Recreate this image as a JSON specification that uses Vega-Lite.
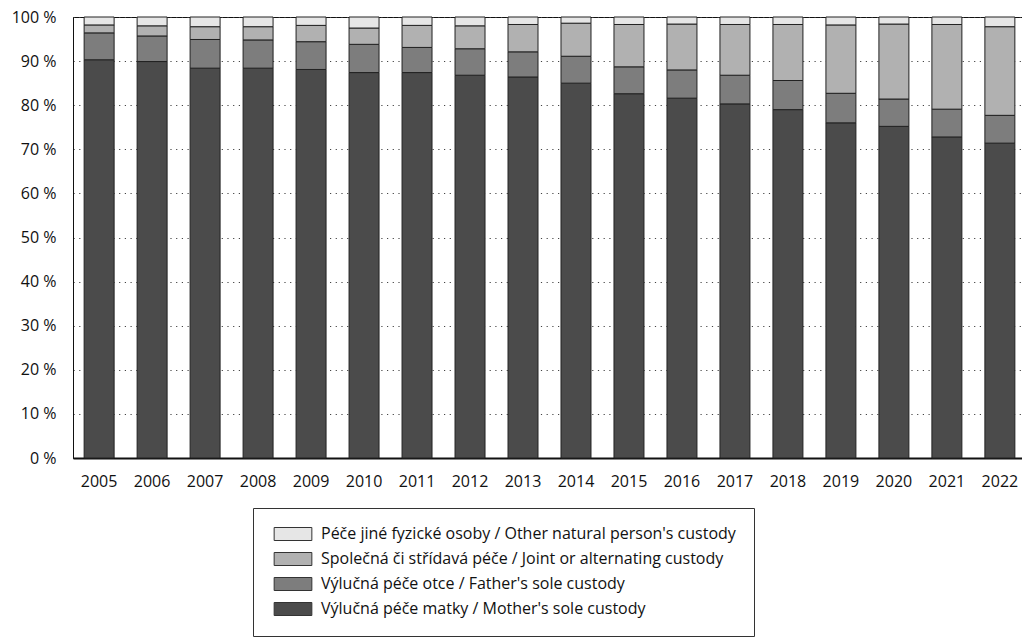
{
  "$schema": "https://vega.github.io/schema/vega-lite/v6.json",
  "autosize": "none",
  "padding": {"left": 73, "top": 17, "right": 0, "bottom": 180},
  "width": 953,
  "height": 441,
  "background": "white",
  "config": {
    "view": {"stroke": "#111", "strokeWidth": 1},
    "font": "Open Sans",
    "axis": {"labelFont": "Open Sans", "labelColor": "#111", "domainColor": "#111"},
    "legend": {"labelFont": "Open Sans"}
  },
  "data": {
    "values": [
      {"year": "2005", "c": "mother", "k": 1, "v": 90.3}, {"year": "2005", "c": "father", "k": 2, "v": 6.1}, {"year": "2005", "c": "joint", "k": 3, "v": 1.8}, {"year": "2005", "c": "other", "k": 4, "v": 1.8},
      {"year": "2006", "c": "mother", "k": 1, "v": 89.9}, {"year": "2006", "c": "father", "k": 2, "v": 5.8}, {"year": "2006", "c": "joint", "k": 3, "v": 2.3}, {"year": "2006", "c": "other", "k": 4, "v": 2.0},
      {"year": "2007", "c": "mother", "k": 1, "v": 88.4}, {"year": "2007", "c": "father", "k": 2, "v": 6.5}, {"year": "2007", "c": "joint", "k": 3, "v": 2.9}, {"year": "2007", "c": "other", "k": 4, "v": 2.2},
      {"year": "2008", "c": "mother", "k": 1, "v": 88.4}, {"year": "2008", "c": "father", "k": 2, "v": 6.4}, {"year": "2008", "c": "joint", "k": 3, "v": 3.0}, {"year": "2008", "c": "other", "k": 4, "v": 2.2},
      {"year": "2009", "c": "mother", "k": 1, "v": 88.1}, {"year": "2009", "c": "father", "k": 2, "v": 6.3}, {"year": "2009", "c": "joint", "k": 3, "v": 3.7}, {"year": "2009", "c": "other", "k": 4, "v": 1.9},
      {"year": "2010", "c": "mother", "k": 1, "v": 87.4}, {"year": "2010", "c": "father", "k": 2, "v": 6.4}, {"year": "2010", "c": "joint", "k": 3, "v": 3.7}, {"year": "2010", "c": "other", "k": 4, "v": 2.5},
      {"year": "2011", "c": "mother", "k": 1, "v": 87.4}, {"year": "2011", "c": "father", "k": 2, "v": 5.7}, {"year": "2011", "c": "joint", "k": 3, "v": 5.0}, {"year": "2011", "c": "other", "k": 4, "v": 1.9},
      {"year": "2012", "c": "mother", "k": 1, "v": 86.8}, {"year": "2012", "c": "father", "k": 2, "v": 6.0}, {"year": "2012", "c": "joint", "k": 3, "v": 5.2}, {"year": "2012", "c": "other", "k": 4, "v": 2.0},
      {"year": "2013", "c": "mother", "k": 1, "v": 86.4}, {"year": "2013", "c": "father", "k": 2, "v": 5.7}, {"year": "2013", "c": "joint", "k": 3, "v": 6.2}, {"year": "2013", "c": "other", "k": 4, "v": 1.7},
      {"year": "2014", "c": "mother", "k": 1, "v": 85.0}, {"year": "2014", "c": "father", "k": 2, "v": 6.1}, {"year": "2014", "c": "joint", "k": 3, "v": 7.5}, {"year": "2014", "c": "other", "k": 4, "v": 1.4},
      {"year": "2015", "c": "mother", "k": 1, "v": 82.6}, {"year": "2015", "c": "father", "k": 2, "v": 6.1}, {"year": "2015", "c": "joint", "k": 3, "v": 9.6}, {"year": "2015", "c": "other", "k": 4, "v": 1.7},
      {"year": "2016", "c": "mother", "k": 1, "v": 81.6}, {"year": "2016", "c": "father", "k": 2, "v": 6.4}, {"year": "2016", "c": "joint", "k": 3, "v": 10.4}, {"year": "2016", "c": "other", "k": 4, "v": 1.6},
      {"year": "2017", "c": "mother", "k": 1, "v": 80.3}, {"year": "2017", "c": "father", "k": 2, "v": 6.5}, {"year": "2017", "c": "joint", "k": 3, "v": 11.5}, {"year": "2017", "c": "other", "k": 4, "v": 1.7},
      {"year": "2018", "c": "mother", "k": 1, "v": 79.0}, {"year": "2018", "c": "father", "k": 2, "v": 6.6}, {"year": "2018", "c": "joint", "k": 3, "v": 12.7}, {"year": "2018", "c": "other", "k": 4, "v": 1.7},
      {"year": "2019", "c": "mother", "k": 1, "v": 76.0}, {"year": "2019", "c": "father", "k": 2, "v": 6.7}, {"year": "2019", "c": "joint", "k": 3, "v": 15.5}, {"year": "2019", "c": "other", "k": 4, "v": 1.8},
      {"year": "2020", "c": "mother", "k": 1, "v": 75.2}, {"year": "2020", "c": "father", "k": 2, "v": 6.2}, {"year": "2020", "c": "joint", "k": 3, "v": 17.0}, {"year": "2020", "c": "other", "k": 4, "v": 1.6},
      {"year": "2021", "c": "mother", "k": 1, "v": 72.8}, {"year": "2021", "c": "father", "k": 2, "v": 6.3}, {"year": "2021", "c": "joint", "k": 3, "v": 19.2}, {"year": "2021", "c": "other", "k": 4, "v": 1.7},
      {"year": "2022", "c": "mother", "k": 1, "v": 71.4}, {"year": "2022", "c": "father", "k": 2, "v": 6.3}, {"year": "2022", "c": "joint", "k": 3, "v": 20.1}, {"year": "2022", "c": "other", "k": 4, "v": 2.2}
    ]
  },
  "mark": {"type": "bar", "stroke": "#222", "strokeWidth": 1},
  "encoding": {
    "x": {
      "field": "year", "type": "ordinal",
      "scale": {"paddingInner": 0.434, "paddingOuter": 0.21},
      "axis": {"title": null, "labelAngle": 0, "ticks": false, "labelFontSize": 16, "labelPadding": 15, "domainWidth": 2, "domainColor": "#111"}
    },
    "y": {
      "field": "v", "type": "quantitative", "stack": "zero",
      "scale": {"domain": [0, 100], "nice": false},
      "axis": {
        "title": null, "values": [0, 10, 20, 30, 40, 50, 60, 70, 80, 90, 100],
        "labelExpr": "datum.value + ' %'", "ticks": false, "labelFontSize": 16, "labelPadding": 17,
        "grid": true, "gridColor": "#444", "gridDash": [1.2, 4.5], "gridWidth": 1, "domainColor": "#111"
      }
    },
    "order": {"field": "k", "type": "quantitative", "sort": "ascending"},
    "color": {
      "field": "c", "type": "nominal",
      "scale": {
        "domain": ["other", "joint", "father", "mother"],
        "range": ["#e6e6e6", "#b1b1b1", "#7d7d7d", "#4b4b4b"]
      },
      "legend": {
        "title": null, "orient": "none", "legendX": 180, "legendY": 491,
        "direction": "vertical",
        "labelExpr": "datum.value == 'other' ? 'Péče jiné fyzické osoby / Other natural person\\'s custody' : datum.value == 'joint' ? 'Společná či střídavá péče / Joint or alternating custody' : datum.value == 'father' ? 'Výlučná péče otce / Father\\'s sole custody' : 'Výlučná péče matky / Mother\\'s sole custody'",
        "labelFontSize": 16, "labelColor": "#111", "labelLimit": 600, "labelOffset": 20,
        "symbolType": "M-2.9,-1H2.9V1H-2.9Z", "symbolSize": 169, "symbolOffset": 14, "symbolStrokeColor": "#333", "symbolStrokeWidth": 1, "symbolOpacity": 1,
        "rowPadding": 7, "padding": 18, "strokeColor": "#333", "fillColor": "white"
      }
    }
  }
}
